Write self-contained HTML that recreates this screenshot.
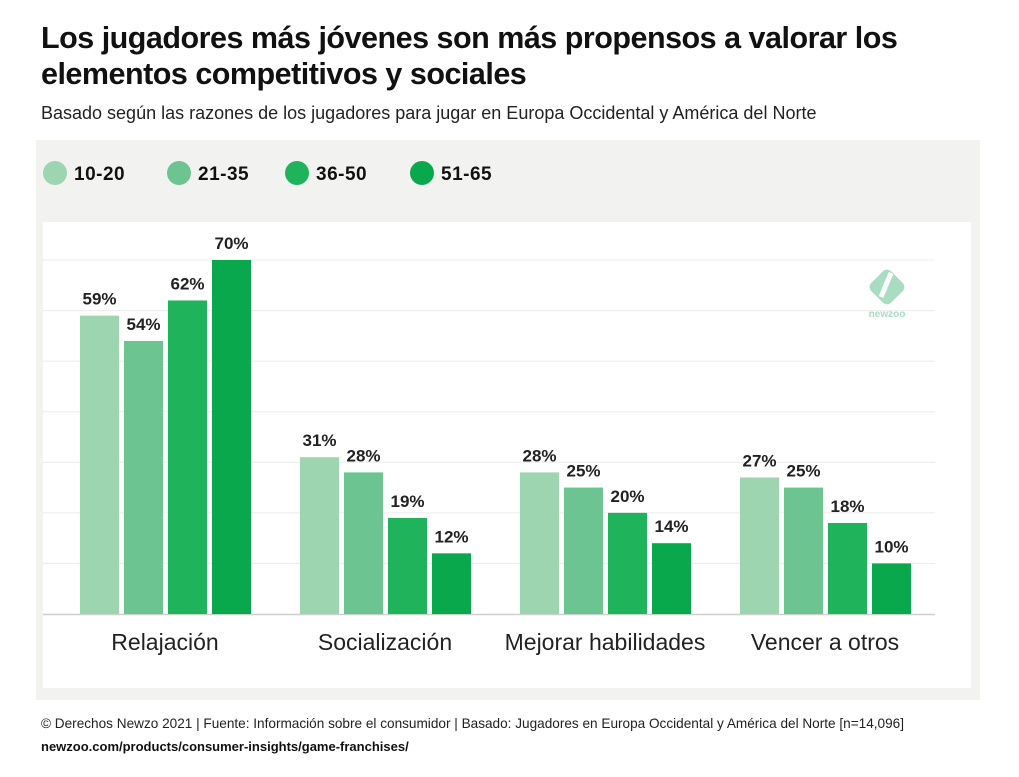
<!DOCTYPE html>
<html><head><meta charset="utf-8"><style>
body{margin:0;width:1019px;height:777px;background:#fff;font-family:"Liberation Sans",sans-serif;position:relative;overflow:hidden}
.t{position:absolute;left:41px;color:#111}
</style></head><body>
<div class="t" style="top:20px;font-size:30.5px;font-weight:bold;line-height:36px;letter-spacing:-0.5px">Los jugadores más jóvenes son más propensos a valorar los<br>elementos competitivos y sociales</div>
<div class="t" style="top:103px;font-size:18px;color:#222">Basado según las razones de los jugadores para jugar en Europa Occidental y América del Norte</div>
<div style="position:absolute;left:36px;top:140px;width:944px;height:560px;background:#f2f2f1"></div>
<div style="position:absolute;left:43px;top:222px;width:928px;height:466px;background:#fff"></div>
<svg width="1019" height="777" style="position:absolute;left:0;top:0">
<g id="legend"></g><g id="grid"></g><g id="bars"></g>
<g transform="translate(887,287)">
<rect x="-14" y="-14" width="28" height="28" rx="6" transform="rotate(45)" fill="#a9dcc0"/>
<path d="M4,-14 L-6,10" stroke="#fff" stroke-width="5"/>
<text x="0" y="30" font-size="10" fill="#a9dcc0" text-anchor="middle" font-weight="bold">newzoo</text>
</g>
</svg>
<div class="t" style="top:716px;font-size:13.6px;color:#222">© Derechos Newzo 2021 | Fuente: Información sobre el consumidor | Basado: Jugadores en Europa Occidental y América del Norte [n=14,096]</div>
<div class="t" style="top:739px;font-size:13px;font-weight:bold;color:#111">newzoo.com/products/consumer-insights/game-franchises/</div>
<script>
const categories=["Relajación","Socialización","Mejorar habilidades","Vencer a otros"];
const series=["10-20","21-35","36-50","51-65"];
const s1020=[59,31,28,27];
const s2135=[54,28,25,25];
const s3650=[62,19,20,18];
const s5165=[70,12,14,10];
const colors=["#9dd5b0","#6cc490","#1fb45c","#0aa84c"];
const ns="http://www.w3.org/2000/svg";
const y=v=>614-v*354/70;
const gx=i=>80+i*220;
function mk(tag,attrs,parent){const e=document.createElementNS(ns,tag);for(const k in attrs)e.setAttribute(k,attrs[k]);parent.appendChild(e);return e;}
const L=document.getElementById('legend'),G=document.getElementById('grid'),B=document.getElementById('bars');
const lx=[55,179,297,422];
series.forEach((s,i)=>{
 const c=mk('circle',{cx:lx[i],cy:173,r:12,fill:colors[i]},L);
 
 
 const t=mk('text',{x:lx[i]+19,y:180,'font-size':19,'font-weight':'bold',fill:'#111','letter-spacing':'0.5'},L);
 t.textContent=s;
 
 
});
for(let v=10;v<=70;v+=10){
 const l=mk('line',{x1:43,x2:935,y1:y(v),y2:y(v),stroke:'#ececec','stroke-width':1},G);
 
 
}
const ax=mk('line',{x1:43,x2:935,y1:614.5,y2:614.5,stroke:'#cfcfcf','stroke-width':1.5},G);


const all=[s1020,s2135,s3650,s5165];
categories.forEach((c,ci)=>{
 all.forEach((arr,si)=>{
  const v=arr[ci],x=gx(ci)+si*44;
  const r=mk('rect',{x:x,y:y(v),width:39,height:614-y(v),fill:colors[si]},B);
  
  
  const t=mk('text',{x:x+19.5,y:y(v)-11,'font-size':17,'font-weight':'bold','text-anchor':'middle',fill:'#222'},B);
  t.textContent=v+'%';
  
  
 });
 const t=mk('text',{x:gx(ci)+85,y:650,'font-size':23,'text-anchor':'middle',fill:'#222'},B);
 t.textContent=c;
 
 
});
</script>
</body></html>
